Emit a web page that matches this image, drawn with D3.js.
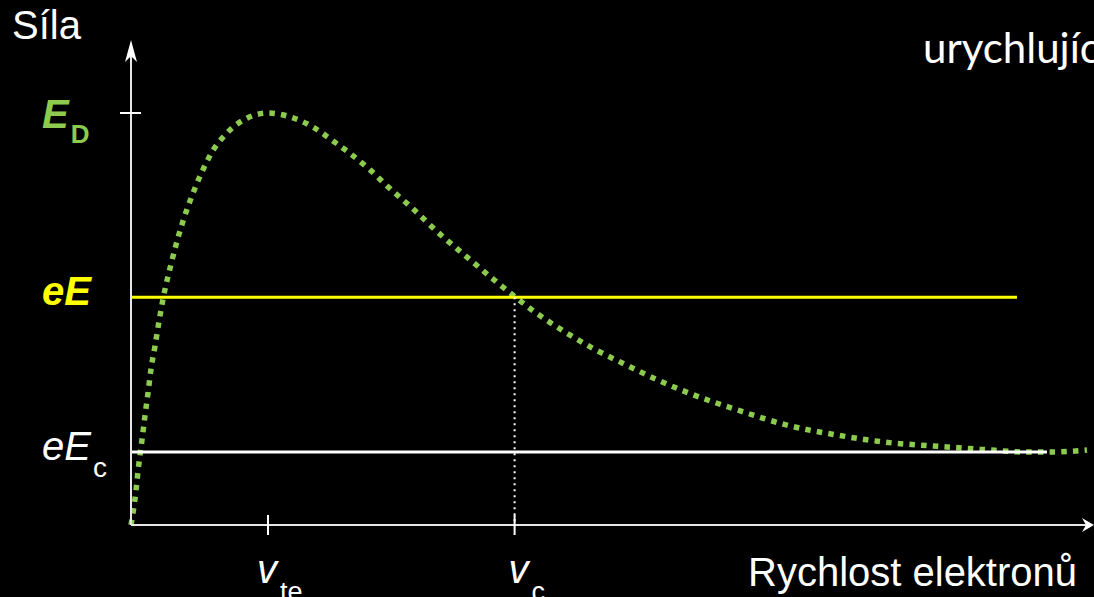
<!DOCTYPE html>
<html>
<head>
<meta charset="utf-8">
<script src="https://cdn.jsdelivr.net/npm/d3@7"></script>
<style>
  html, body { margin: 0; padding: 0; background: #000; overflow: hidden; }
  svg { display: block; }
</style>
</head>
<body>
<svg id="chart" width="1094" height="597"></svg>
<script>
// ---- data (velocity in units of v_te, force in units of E_D) ----
const velocity = [0, 0.029, 0.058, 0.080, 0.102, 0.124, 0.146, 0.175, 0.204, 0.234, 0.292, 0.336, 0.387, 0.445, 0.511, 0.591, 0.693, 0.832, 1.0, 1.168, 1.328, 1.467, 1.606, 1.745, 1.869, 2.066, 2.255, 2.453, 2.650, 2.788, 2.927, 3.146, 3.365, 3.599, 3.832, 4.073, 4.401, 4.818, 5.161, 5.504, 5.847, 6.197, 6.547, 6.715, 6.978];
const friction = [0, 0.063, 0.150, 0.206, 0.265, 0.320, 0.379, 0.434, 0.493, 0.549, 0.633, 0.689, 0.745, 0.799, 0.852, 0.905, 0.949, 0.985, 1.0, 0.990, 0.966, 0.934, 0.900, 0.862, 0.823, 0.765, 0.706, 0.650, 0.595, 0.558, 0.522, 0.473, 0.430, 0.391, 0.354, 0.320, 0.282, 0.240, 0.218, 0.201, 0.192, 0.184, 0.177, 0.177, 0.182];

const forceLevels = [1.0, 0.553, 0.177];          // E_D, eE, eE_c
const forceLabelMain = ["E", "eE", "eE"];
const forceLabelSub = ["D", "", "c"];
const levelLineEnd = [null, 6.467, 6.686];          // horizontal lines (velocity units)

const velocityTicks = [1.0, 2.8];                   // v_te, v_c
const velocityLabelMain = ["v", "v"];
const velocityLabelSub = ["te", "c"];

const yTitle = "Síla";
const xTitle = "Rychlost elektronů";
const cornerText = "urychlující";

// ---- scales ----
const svg = d3.select("#chart");
const x = d3.scaleLinear().domain([0, 7]).range([131, 1090]);
const y = d3.scaleLinear().domain([0, 1]).range([525, 113]);

const green = "#8DCB4E";
const levelColors = [green, "#FFFF00", "#FFFFFF"];
const levelWeights = ["bold", "bold", "normal"];

svg.append("rect").attr("width", 1094).attr("height", 597).attr("fill", "#000");

// ---- curve (drawn first, lines over it) ----
const pts = velocity.map((v, i) => [v, friction[i]]);
svg.append("path")
  .datum(pts)
  .attr("d", d3.line().x(d => x(d[0])).y(d => y(d[1])).curve(d3.curveMonotoneX))
  .attr("fill", "none")
  .attr("stroke", green)
  .attr("stroke-width", 5.5)
  .attr("stroke-dasharray", "5.5 6.2");

// ---- horizontal level lines ----
forceLevels.forEach((lv, i) => {
  if (levelLineEnd[i] === null) return;
  svg.append("line")
    .attr("x1", x(0)).attr("x2", x(levelLineEnd[i]))
    .attr("y1", y(lv)).attr("y2", y(lv))
    .attr("stroke", levelColors[i]).attr("stroke-width", 3);
});

// ---- dotted vertical at v_c ----
svg.append("line")
  .attr("x1", x(velocityTicks[1])).attr("x2", x(velocityTicks[1]))
  .attr("y1", y(forceLevels[1])).attr("y2", y(0))
  .attr("stroke", "#fff").attr("stroke-width", 2)
  .attr("stroke-dasharray", "2 4");

// ---- axes ----
const axisColor = "#e6e6e6";
svg.append("line").attr("x1", x(0)).attr("x2", x(0)).attr("y1", y(0)).attr("y2", 50)
  .attr("stroke", axisColor).attr("stroke-width", 2);
svg.append("path")
  .attr("d", `M${x(0)},40 L${x(0) - 6},62 L${x(0)},56 L${x(0) + 6},62 Z`)
  .attr("fill", "#fff");
svg.append("line").attr("x1", x(0)).attr("x2", 1088).attr("y1", y(0)).attr("y2", y(0))
  .attr("stroke", axisColor).attr("stroke-width", 2);
svg.append("path")
  .attr("d", `M1094,${y(0)} L1082,${y(0) - 7} L1086,${y(0)} L1082,${y(0) + 7} Z`)
  .attr("fill", "#fff");

// y tick at E_D
svg.append("line").attr("x1", x(0) - 11).attr("x2", x(0) + 10)
  .attr("y1", y(forceLevels[0])).attr("y2", y(forceLevels[0]))
  .attr("stroke", "#fff").attr("stroke-width", 2);

// x ticks
velocityTicks.forEach(v => {
  svg.append("line").attr("x1", x(v)).attr("x2", x(v))
    .attr("y1", y(0) - 10).attr("y2", y(0) + 10)
    .attr("stroke", "#fff").attr("stroke-width", 2);
});

// ---- level labels ----
const font = "'Liberation Sans', Arial, sans-serif";
forceLevels.forEach((lv, i) => {
  const t = svg.append("text")
    .attr("x", 42).attr("y", y(lv) + (i === 0 ? 15 : 8))
    .attr("font-family", font).attr("fill", levelColors[i])
    .attr("font-weight", levelWeights[i]);
  t.append("tspan").attr("font-size", 40).attr("font-style", "italic").text(forceLabelMain[i]);
  if (forceLabelSub[i]) {
    t.append("tspan").attr("font-size", i === 0 ? 26 : 28)
      .attr("dx", 2).attr("dy", i === 0 ? 15 : 17).text(forceLabelSub[i]);
  }
});

// ---- velocity labels ----
velocityTicks.forEach((v, i) => {
  const t = svg.append("text")
    .attr("x", x(v) - (i === 0 ? 11 : 6)).attr("y", 583)
    .attr("font-family", font).attr("fill", "#fff");
  t.append("tspan").attr("font-size", 40).attr("font-style", "italic").text(velocityLabelMain[i]);
  t.append("tspan").attr("font-size", 27).attr("dx", 3).attr("dy", 18).text(velocityLabelSub[i]);
});

// ---- titles ----
svg.append("text").attr("x", 12).attr("y", 39)
  .attr("font-family", font).attr("font-size", 40).attr("fill", "#fff").text(yTitle);
svg.append("text").attr("x", 748).attr("y", 586)
  .attr("font-family", font).attr("font-size", 40).attr("fill", "#fff").text(xTitle);
svg.append("text").attr("x", 923).attr("y", 63)
  .attr("font-family", "Lato, 'Open Sans', sans-serif").attr("font-size", 42).attr("fill", "#fff").text(cornerText);
</script>
</body>
</html>
